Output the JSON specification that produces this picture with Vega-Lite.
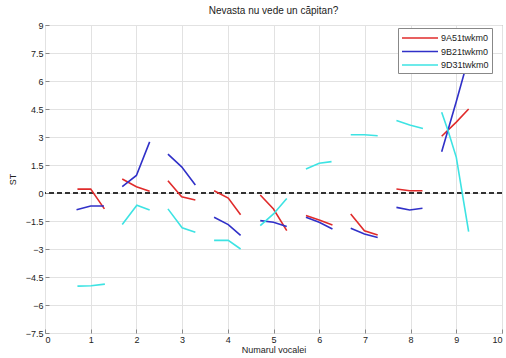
{
  "$schema": "https://vega.github.io/schema/vega-lite/v6.json",
  "autosize": "none",
  "width": 457,
  "height": 308,
  "padding": {"left": 45, "top": 25, "right": 4, "bottom": 25},
  "background": "white",
  "config": {
    "font": "Liberation Sans",
    "view": {"stroke": "#888888", "strokeWidth": 1}
  },
  "title": {"text": "Nevasta nu vede un căpitan?", "fontSize": 10, "fontWeight": "normal", "color": "#222222", "offset": 5, "anchor": "middle"},
  "data": {"values": [
    {"s": "9A51twkm0", "g": "A1", "x": 0.71, "y": 0.21}, {"s": "9A51twkm0", "g": "A1", "x": 1.0, "y": 0.21}, {"s": "9A51twkm0", "g": "A1", "x": 1.3, "y": -0.85},
    {"s": "9A51twkm0", "g": "A2", "x": 1.69, "y": 0.75}, {"s": "9A51twkm0", "g": "A2", "x": 2.0, "y": 0.34}, {"s": "9A51twkm0", "g": "A2", "x": 2.29, "y": 0.09},
    {"s": "9A51twkm0", "g": "A3", "x": 2.69, "y": 0.66}, {"s": "9A51twkm0", "g": "A3", "x": 2.99, "y": -0.2}, {"s": "9A51twkm0", "g": "A3", "x": 3.29, "y": -0.37},
    {"s": "9A51twkm0", "g": "A4", "x": 3.7, "y": 0.12}, {"s": "9A51twkm0", "g": "A4", "x": 4.01, "y": -0.27}, {"s": "9A51twkm0", "g": "A4", "x": 4.28, "y": -1.17},
    {"s": "9A51twkm0", "g": "A5", "x": 4.71, "y": -0.11}, {"s": "9A51twkm0", "g": "A5", "x": 5.0, "y": -0.86}, {"s": "9A51twkm0", "g": "A5", "x": 5.29, "y": -2.02},
    {"s": "9A51twkm0", "g": "A6", "x": 5.71, "y": -1.21}, {"s": "9A51twkm0", "g": "A6", "x": 6.0, "y": -1.45}, {"s": "9A51twkm0", "g": "A6", "x": 6.29, "y": -1.71},
    {"s": "9A51twkm0", "g": "A7", "x": 6.69, "y": -1.12}, {"s": "9A51twkm0", "g": "A7", "x": 6.99, "y": -2.02}, {"s": "9A51twkm0", "g": "A7", "x": 7.28, "y": -2.25},
    {"s": "9A51twkm0", "g": "A8", "x": 7.69, "y": 0.21}, {"s": "9A51twkm0", "g": "A8", "x": 7.98, "y": 0.12}, {"s": "9A51twkm0", "g": "A8", "x": 8.26, "y": 0.12},
    {"s": "9A51twkm0", "g": "A9", "x": 8.68, "y": 3.04}, {"s": "9A51twkm0", "g": "A9", "x": 9.0, "y": 3.8}, {"s": "9A51twkm0", "g": "A9", "x": 9.27, "y": 4.5},
    {"s": "9B21twkm0", "g": "B1", "x": 0.69, "y": -0.9}, {"s": "9B21twkm0", "g": "B1", "x": 1.0, "y": -0.7}, {"s": "9B21twkm0", "g": "B1", "x": 1.29, "y": -0.7},
    {"s": "9B21twkm0", "g": "B2", "x": 1.69, "y": 0.34}, {"s": "9B21twkm0", "g": "B2", "x": 2.0, "y": 0.94}, {"s": "9B21twkm0", "g": "B2", "x": 2.29, "y": 2.74},
    {"s": "9B21twkm0", "g": "B3", "x": 2.69, "y": 2.08}, {"s": "9B21twkm0", "g": "B3", "x": 2.99, "y": 1.4}, {"s": "9B21twkm0", "g": "B3", "x": 3.29, "y": 0.43},
    {"s": "9B21twkm0", "g": "B4", "x": 3.7, "y": -1.3}, {"s": "9B21twkm0", "g": "B4", "x": 4.01, "y": -1.69}, {"s": "9B21twkm0", "g": "B4", "x": 4.28, "y": -2.27},
    {"s": "9B21twkm0", "g": "B5", "x": 4.71, "y": -1.48}, {"s": "9B21twkm0", "g": "B5", "x": 5.0, "y": -1.57}, {"s": "9B21twkm0", "g": "B5", "x": 5.29, "y": -1.8},
    {"s": "9B21twkm0", "g": "B6", "x": 5.71, "y": -1.3}, {"s": "9B21twkm0", "g": "B6", "x": 6.0, "y": -1.57}, {"s": "9B21twkm0", "g": "B6", "x": 6.29, "y": -1.93},
    {"s": "9B21twkm0", "g": "B7", "x": 6.69, "y": -1.89}, {"s": "9B21twkm0", "g": "B7", "x": 6.99, "y": -2.2}, {"s": "9B21twkm0", "g": "B7", "x": 7.28, "y": -2.38},
    {"s": "9B21twkm0", "g": "B8", "x": 7.69, "y": -0.77}, {"s": "9B21twkm0", "g": "B8", "x": 7.98, "y": -0.91}, {"s": "9B21twkm0", "g": "B8", "x": 8.26, "y": -0.82},
    {"s": "9B21twkm0", "g": "B9", "x": 8.68, "y": 2.21}, {"s": "9B21twkm0", "g": "B9", "x": 9.0, "y": 4.9}, {"s": "9B21twkm0", "g": "B9", "x": 9.24, "y": 7.0},
    {"s": "9D31twkm0", "g": "D1", "x": 0.71, "y": -4.99}, {"s": "9D31twkm0", "g": "D1", "x": 1.01, "y": -4.97}, {"s": "9D31twkm0", "g": "D1", "x": 1.31, "y": -4.88},
    {"s": "9D31twkm0", "g": "D2", "x": 1.69, "y": -1.69}, {"s": "9D31twkm0", "g": "D2", "x": 2.01, "y": -0.66}, {"s": "9D31twkm0", "g": "D2", "x": 2.29, "y": -0.91},
    {"s": "9D31twkm0", "g": "D3", "x": 2.69, "y": -0.85}, {"s": "9D31twkm0", "g": "D3", "x": 3.0, "y": -1.86}, {"s": "9D31twkm0", "g": "D3", "x": 3.29, "y": -2.1},
    {"s": "9D31twkm0", "g": "D4", "x": 3.7, "y": -2.54}, {"s": "9D31twkm0", "g": "D4", "x": 4.01, "y": -2.54}, {"s": "9D31twkm0", "g": "D4", "x": 4.28, "y": -3.0},
    {"s": "9D31twkm0", "g": "D5", "x": 4.71, "y": -1.75}, {"s": "9D31twkm0", "g": "D5", "x": 5.0, "y": -1.12}, {"s": "9D31twkm0", "g": "D5", "x": 5.29, "y": -0.29},
    {"s": "9D31twkm0", "g": "D6", "x": 5.71, "y": 1.29}, {"s": "9D31twkm0", "g": "D6", "x": 6.0, "y": 1.59}, {"s": "9D31twkm0", "g": "D6", "x": 6.27, "y": 1.68},
    {"s": "9D31twkm0", "g": "D7", "x": 6.69, "y": 3.12}, {"s": "9D31twkm0", "g": "D7", "x": 6.99, "y": 3.12}, {"s": "9D31twkm0", "g": "D7", "x": 7.28, "y": 3.07},
    {"s": "9D31twkm0", "g": "D8", "x": 7.69, "y": 3.88}, {"s": "9D31twkm0", "g": "D8", "x": 7.98, "y": 3.64}, {"s": "9D31twkm0", "g": "D8", "x": 8.27, "y": 3.46},
    {"s": "9D31twkm0", "g": "D9", "x": 8.68, "y": 4.32}, {"s": "9D31twkm0", "g": "D9", "x": 8.82, "y": 3.34}, {"s": "9D31twkm0", "g": "D9", "x": 9.0, "y": 1.91}, {"s": "9D31twkm0", "g": "D9", "x": 9.27, "y": -2.07}
  ]},
  "layer": [
    {
      "mark": {"type": "rule", "stroke": "#333333", "strokeDash": [5, 3], "strokeWidth": 1},
      "encoding": {"y": {"datum": 0, "type": "quantitative"}}
    },
    {
      "mark": {"type": "line", "strokeWidth": 1.6},
      "encoding": {
        "x": {"field": "x", "type": "quantitative",
              "scale": {"domain": [0, 10], "nice": false, "zero": false},
              "axis": {"title": "Numarul vocalei", "values": [0,1,2,3,4,5,6,7,8,9,10], "tickCount": 20, "format": "d",
                       "grid": true, "gridColor": "#e2e2e2", "domain": false, "tickColor": "#888888", "tickSize": -4,
                       "labelFontSize": 9, "labelColor": "#222222", "labelPadding": 6, "titleFontSize": 9, "titleFontWeight": "normal", "titleColor": "#222222", "titlePadding": 1}},
        "y": {"field": "y", "type": "quantitative",
              "scale": {"domain": [-7.5, 9], "nice": false, "zero": false},
              "axis": {"title": "ST", "values": [-7.5,-6,-4.5,-3,-1.5,0,1.5,3,4.5,6,7.5,9], "tickCount": 20, "format": ".2~g",
                       "grid": true, "gridColor": "#e2e2e2", "domain": false, "tickColor": "#888888", "tickSize": -4,
                       "labelFontSize": 9, "labelColor": "#222222", "labelPadding": 6, "titleFontSize": 9, "titleFontWeight": "normal", "titleColor": "#222222", "titlePadding": 8}},
        "color": {"field": "s", "type": "nominal",
                  "scale": {"domain": ["9A51twkm0", "9B21twkm0", "9D31twkm0"], "range": ["#e02b2b", "#3030c8", "#3de3e3"]},
                  "legend": {"title": null, "orient": "none", "legendX": 353, "legendY": 3,
                             "symbolType": "M-1,0H5", "symbolSize": 144, "symbolStrokeWidth": 1.6, "symbolFillColor": "transparent",
                             "labelFontSize": 9, "labelColor": "#222222", "labelOffset": 26, "rowPadding": 1.5, "padding": 3,
                             "fillColor": "white", "strokeColor": "#888888"}},
        "detail": {"field": "g", "type": "nominal"}
      }
    }
  ]
}
